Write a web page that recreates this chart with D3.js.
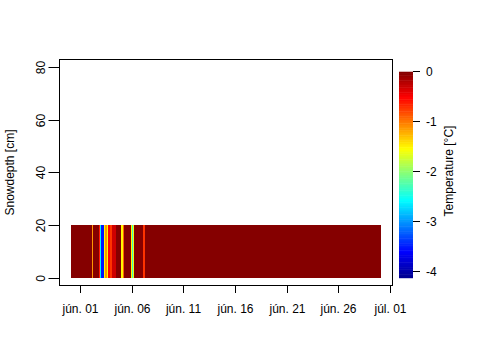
<!DOCTYPE html>
<html>
<head>
<meta charset="utf-8">
<script src="https://cdn.jsdelivr.net/npm/d3@7"></script>
<style>
    body { margin: 0; background: #fff; }
    svg { display: block; font-family: "Liberation Sans", Arial, sans-serif; }
</style>
</head>
<body>
<svg id="chart" width="480" height="360"></svg>
<script>
// snow temperature, step series: each value holds until the next start time
const obsStart = [
    "2013-05-31 03:00", "2013-06-02 04:00", "2013-06-02 06:15", "2013-06-02 20:15",
    "2013-06-02 22:30", "2013-06-03 01:00", "2013-06-03 08:00", "2013-06-03 10:15",
    "2013-06-03 15:00", "2013-06-03 17:15", "2013-06-03 22:00", "2013-06-04 02:30",
    "2013-06-04 11:45", "2013-06-04 23:00", "2013-06-05 04:00", "2013-06-05 06:30",
    "2013-06-05 22:45", "2013-06-06 01:00", "2013-06-06 03:30", "2013-06-06 05:45",
    "2013-06-07 02:40", "2013-06-07 07:20"
];
const obsTemp = [
    0, -1.1, 0, -0.6,
    -2.6, -3.5, -1.5, -1.1,
    -1.5, -0.5, -0.7, -0.3,
    0, -1.5, -0.9, 0,
    -1.5, -2.3, -1.6, 0,
    -0.7, 0
];
const obsEnd = "2013-06-30 03:00";
const snowLayer = [-0.3, 20];

const dayTicks = ["2013-06-01", "2013-06-06", "2013-06-11", "2013-06-16", "2013-06-21", "2013-06-26", "2013-07-01"];
const depthTicks = [0, 20, 40, 60, 80];
const tempTicks = [0, -1, -2, -3, -4];

const svg = d3.select("#chart");

const parseTime = d3.utcParse("%Y-%m-%d %H:%M");
const parseDay = d3.utcParse("%Y-%m-%d");

const hu = d3.timeFormatLocale({
    dateTime: "%Y. %B %-e., %A %X", date: "%Y. %m. %d.", time: "%H:%M:%S",
    periods: ["de.", "du."],
    days: ["vasárnap", "hétfő", "kedd", "szerda", "csütörtök", "péntek", "szombat"],
    shortDays: ["V", "H", "K", "Sze", "Cs", "P", "Szo"],
    months: ["január", "február", "március", "április", "május", "június", "július", "augusztus", "szeptember", "október", "november", "december"],
    shortMonths: ["jan.", "febr.", "márc.", "ápr.", "máj.", "jún.", "júl.", "aug.", "szept.", "okt.", "nov.", "dec."]
});
const fmtDay = hu.utcFormat("%b %d");

const box = { x1: 59.5, x2: 392.5, y1: 59.5, y2: 285.5 };

const x = d3.scaleUtc()
    .domain([parseTime("2013-05-30 00:00"), parseTime("2013-07-01 06:15")])
    .range([box.x1, box.x2]);

const y = d3.scaleLinear()
    .domain([-3.0, 82.9])
    .range([box.y2, box.y1]);

// jet palette
const tMin = -4.1, tMax = 0.02;
const jetStops = [0, 0.125, 0.375, 0.625, 0.875, 1];
const jetColors = ["#00008f", "#0000ff", "#00ffff", "#ffff00", "#ff0000", "#800000"];
const color = d3.scaleLinear()
    .domain(jetStops.map(s => tMin + s * (tMax - tMin)))
    .range(jetColors)
    .clamp(true);

// cells
const cells = obsStart.map((s, i) => ({
    t0: parseTime(s),
    t1: parseTime(i + 1 < obsStart.length ? obsStart[i + 1] : obsEnd),
    v: obsTemp[i]
}));

svg.append("g")
    .selectAll("rect")
    .data(cells)
    .join("rect")
    .attr("x", d => x(d.t0))
    .attr("width", d => x(d.t1) - x(d.t0) + 0.3)
    .attr("y", y(snowLayer[1]))
    .attr("height", y(snowLayer[0]) - y(snowLayer[1]))
    .attr("fill", d => color(d.v))
    .attr("shape-rendering", "crispEdges");

// frame
svg.append("rect")
    .attr("x", box.x1).attr("y", box.y1)
    .attr("width", box.x2 - box.x1).attr("height", box.y2 - box.y1)
    .attr("fill", "none").attr("stroke", "#000").attr("stroke-width", 1);

// x axis
const gx = svg.append("g");
dayTicks.map(parseDay).forEach(d => {
    const px = Math.round(x(d)) + 0.5;
    gx.append("line")
        .attr("x1", px).attr("x2", px)
        .attr("y1", box.y2).attr("y2", box.y2 + 7.5)
        .attr("stroke", "#000");
    gx.append("text")
        .attr("x", px).attr("y", 313)
        .attr("text-anchor", "middle")
        .attr("font-size", 12)
        .text(fmtDay(d));
});

// y axis
const gy = svg.append("g");
depthTicks.forEach(v => {
    const py = Math.round(y(v)) + 0.5;
    gy.append("line")
        .attr("x1", box.x1 - 11).attr("x2", box.x1)
        .attr("y1", py).attr("y2", py)
        .attr("stroke", "#000");
    gy.append("text")
        .attr("transform", `translate(44.5,${py}) rotate(-90)`)
        .attr("text-anchor", "middle")
        .attr("font-size", 12)
        .text(v);
});

svg.append("text")
    .attr("transform", `translate(14,${(box.y1 + box.y2) / 2}) rotate(-90)`)
    .attr("text-anchor", "middle")
    .attr("font-size", 12)
    .text("Snowdepth [cm]");

// colour bar
const cb = d3.scaleLinear().domain([0, -4]).range([71, 271]);
const barX = 399, barW = 14;
const steps = d3.range(0, 120);
const legend = svg.append("g");
legend.selectAll("rect")
    .data(steps)
    .join("rect")
    .attr("x", barX)
    .attr("width", barW)
    .attr("y", i => cb(tMax - (i + 1) * (tMax - tMin) / steps.length))
    .attr("height", (cb(tMin) - cb(tMax)) / steps.length + 0.5)
    .attr("fill", i => color(tMax - (i + 0.5) * (tMax - tMin) / steps.length));

tempTicks.forEach(v => {
    const py = Math.round(cb(v)) + 0.5;
    legend.append("line")
        .attr("x1", barX + barW).attr("x2", barX + barW + 7)
        .attr("y1", py).attr("y2", py)
        .attr("stroke", "#000");
    legend.append("text")
        .attr("x", 426).attr("y", py)
        .attr("dy", "0.35em")
        .attr("font-size", 12)
        .text(v);
});

legend.append("text")
    .attr("transform", `translate(452.5,${cb(-2)}) rotate(-90)`)
    .attr("text-anchor", "middle")
    .attr("font-size", 12)
    .text("Temperature [°C]");
</script>
</body>
</html>
